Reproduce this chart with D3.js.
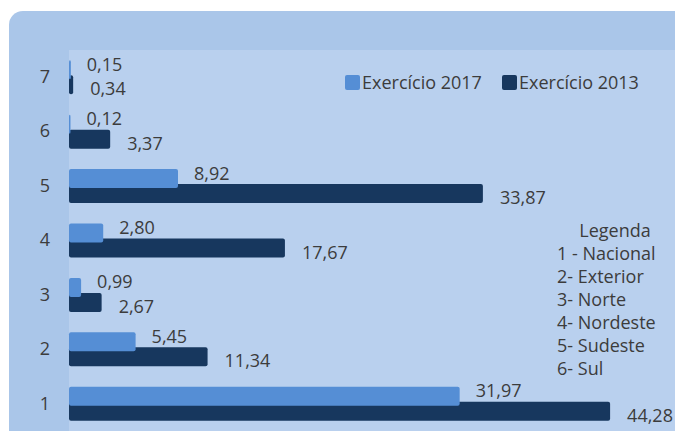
<!DOCTYPE html>
<html>
<head>
<meta charset="utf-8">
<script src="https://cdn.jsdelivr.net/npm/d3@7"></script>
<style>
  body { margin: 0; background: #fff; }
  svg { display: block; font-family: "Segoe UI", "Open Sans", sans-serif; }
</style>
</head>
<body>
<script>
// chart data
var categories = ['1', '2', '3', '4', '5', '6', '7'];
var values2017 = [31.97, 5.45, 0.99, 2.80, 8.92, 0.12, 0.15];
var values2013 = [44.28, 11.34, 2.67, 17.67, 33.87, 3.37, 0.34];
var seriesNames = ['Exercício 2017', 'Exercício 2013'];
var legendLines = ['1 - Nacional', '2- Exterior', '3- Norte', '4- Nordeste', '5- Sudeste', '6- Sul'];

var W = 675, H = 431;
var colLight = '#558ed5', colDark = '#17375e', textCol = '#3c3c3c';
var fs = 18;

var svg = d3.select('body').append('svg').attr('width', W).attr('height', H);

// outer panel and plot area
svg.append('rect').attr('x', 9).attr('y', 11).attr('width', W + 40).attr('height', H + 40)
  .attr('rx', 14).attr('fill', '#aac6e9');
svg.append('rect').attr('x', 69).attr('y', 50).attr('width', W).attr('height', H)
  .attr('fill', '#b9d0ee');

var x = d3.scaleLinear().domain([0, 45]).range([69, 69 + 45 * 12.22]);
var y = d3.scaleBand().domain(categories.slice().reverse()).range([50, 431]);

var fmt = d3.formatLocale({decimal: ',', thousands: '.', grouping: [3], currency: ['', '']}).format('.2f');

var rows = categories.map(function(c, i) {
  return {cat: c, v17: values2017[i], v13: values2013[i]};
});

var barH = 19;
function mid(d) { return y(d.cat) + y.bandwidth() / 2; }

// dark (2013) first, light (2017) drawn on top
svg.selectAll('rect.b13').data(rows).enter().append('rect')
  .attr('class', 'b13')
  .attr('x', x(0))
  .attr('y', function(d) { return mid(d) - 2; })
  .attr('width', function(d) { return x(d.v13) - x(0); })
  .attr('height', barH)
  .attr('rx', 2)
  .attr('fill', colDark);

svg.selectAll('rect.b17').data(rows).enter().append('rect')
  .attr('class', 'b17')
  .attr('x', x(0))
  .attr('y', function(d) { return mid(d) - 17; })
  .attr('width', function(d) { return x(d.v17) - x(0); })
  .attr('height', barH)
  .attr('rx', 2)
  .attr('fill', colLight);

// value labels
svg.selectAll('text.l17').data(rows).enter().append('text')
  .attr('x', function(d) { return x(d.v17) + 16; })
  .attr('y', function(d) { return mid(d) - 7.5 - 5.5 + 6.5; })
  .attr('font-size', fs).attr('fill', textCol)
  .text(function(d) { return fmt(d.v17); });

svg.selectAll('text.l13').data(rows).enter().append('text')
  .attr('x', function(d) { return x(d.v13) + 17; })
  .attr('y', function(d) { return mid(d) + 7.5 + 4 + 6.5; })
  .attr('font-size', fs).attr('fill', textCol)
  .text(function(d) { return fmt(d.v13); });

// y axis labels
var yAxis = d3.axisLeft(y).tickSize(0).tickPadding(0);
var yg = svg.append('g').attr('transform', 'translate(50,0)').call(yAxis);
yg.select('.domain').remove();
yg.selectAll('text').attr('font-size', fs).attr('fill', textCol)
  .attr('font-family', '"Segoe UI", "Open Sans", sans-serif');

// top legend
var legX = [345, 502];
seriesNames.forEach(function(name, i) {
  svg.append('rect').attr('x', legX[i]).attr('y', 75).attr('width', 15).attr('height', 15)
    .attr('rx', 2).attr('fill', i === 0 ? colLight : colDark);
  svg.append('text').attr('x', legX[i] + 17).attr('y', 89)
    .attr('font-size', fs).attr('fill', textCol).text(name);
});

// right legend
svg.append('text').attr('x', 615).attr('y', 237).attr('text-anchor', 'middle')
  .attr('font-size', fs).attr('fill', textCol).text('Legenda');
svg.selectAll('text.leg').data(legendLines).enter().append('text')
  .attr('x', 557)
  .attr('y', function(d, i) { return 260 + i * 23; })
  .attr('font-size', fs).attr('fill', textCol)
  .text(function(d) { return d; });
</script>
</body>
</html>
